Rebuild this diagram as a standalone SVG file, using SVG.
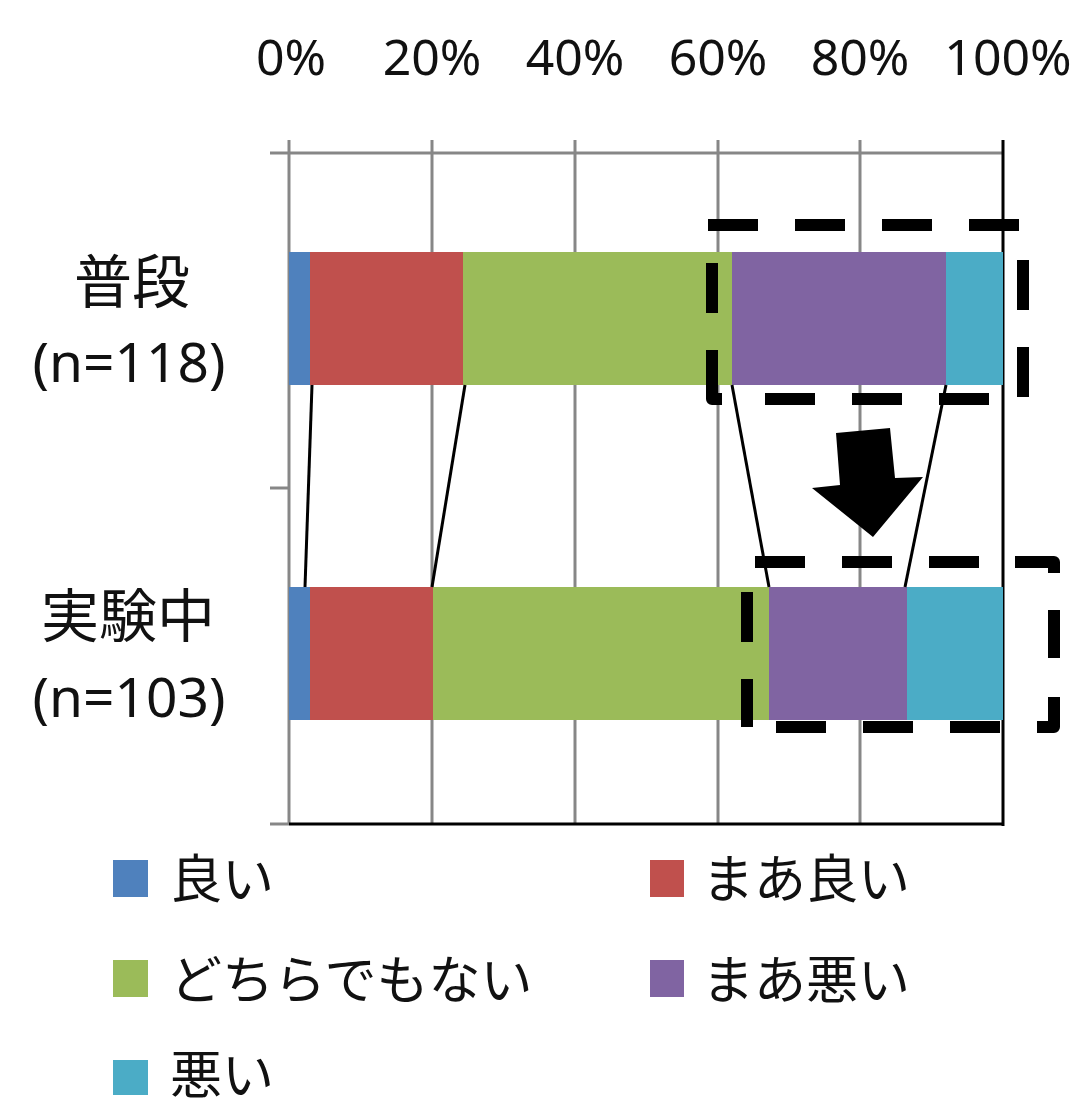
<svg xmlns="http://www.w3.org/2000/svg" width="1080" height="1110" viewBox="0 0 1080 1110">
<style>
.grid{stroke:#878787;stroke-width:3;fill:none}
.blk{stroke:#000;stroke-width:3;fill:none}
.dash{stroke:#000;stroke-width:12;fill:none;stroke-dasharray:50 37;stroke-linejoin:round}
.ax{font-family:"Noto Sans","Noto Sans CJK JP",sans-serif;font-size:50px;fill:#111;text-anchor:middle}
.lbl{font-family:"Noto Sans","Noto Sans CJK JP",sans-serif;font-size:55px;fill:#111;text-anchor:middle}
.jp{font-family:"Noto Sans CJK JP",sans-serif;font-size:58px;fill:#111;text-anchor:middle}
.leg{font-family:"Noto Sans CJK JP",sans-serif;font-size:52px;fill:#111}
.c1{fill:#4F81BD}.c2{fill:#C0504D}.c3{fill:#9BBB59}.c4{fill:#8064A2}.c5{fill:#4BACC6}
</style>
<rect width="1080" height="1110" fill="#fff"/>
<g id="axis-labels">
<text class="ax" x="291" y="75">0%</text>
<text class="ax" x="432" y="75">20%</text>
<text class="ax" x="575" y="75">40%</text>
<text class="ax" x="718" y="75">60%</text>
<text class="ax" x="860" y="75">80%</text>
<text class="ax" x="1008" y="75">100%</text>
</g>
<g id="gridlines">
<line class="grid" x1="270" y1="153" x2="1003" y2="153"/>
<line class="grid" x1="289" y1="140" x2="289" y2="824"/>
<line class="grid" x1="432" y1="140" x2="432" y2="824"/>
<line class="grid" x1="575" y1="140" x2="575" y2="824"/>
<line class="grid" x1="718" y1="140" x2="718" y2="824"/>
<line class="grid" x1="860" y1="140" x2="860" y2="824"/>
<line class="grid" x1="270" y1="488" x2="289" y2="488"/>
<line class="grid" x1="270" y1="824" x2="289" y2="824"/>
<line class="blk" x1="1003" y1="140" x2="1003" y2="826"/>
<line class="blk" x1="289" y1="824" x2="1003" y2="824"/>
</g>
<g id="row-labels">
<text class="jp" x="132" y="303">普段</text>
<text class="lbl" x="129" y="382">(n=118)</text>
<text class="jp" x="128" y="637">実験中</text>
<text class="lbl" x="129" y="717">(n=103)</text>
</g>
<g id="bar-usual">
<rect class="c1" x="289" y="252" width="21" height="133"/>
<rect class="c2" x="310" y="252" width="153" height="133"/>
<rect class="c3" x="463" y="252" width="269" height="133"/>
<rect class="c4" x="732" y="252" width="214" height="133"/>
<rect class="c5" x="946" y="252" width="57" height="133"/>
</g>
<g id="bar-experiment">
<rect class="c1" x="289" y="587" width="21" height="133"/>
<rect class="c2" x="310" y="587" width="123" height="133"/>
<rect class="c3" x="433" y="587" width="336" height="133"/>
<rect class="c4" x="769" y="587" width="138" height="133"/>
<rect class="c5" x="907" y="587" width="96" height="133"/>
</g>
<g id="connectors">
<line class="blk" x1="312" y1="385" x2="305" y2="587"/>
<line class="blk" x1="465" y1="385" x2="432" y2="587"/>
<line class="blk" x1="732" y1="385" x2="769" y2="587"/>
<line class="blk" x1="946" y1="385" x2="905" y2="587"/>
</g>
<g id="highlight-usual">
<path class="dash" d="M708,225 H1022"/>
<path class="dash" d="M712,263 V399"/>
<path class="dash" d="M765,399 H990"/>
<path class="dash" style="stroke-dasharray:none" d="M712,386 V399 H722"/>
<path class="dash" d="M1023,260 V399" style="stroke-dasharray:50 37"/>
</g>
<g id="highlight-experiment">
<path class="dash" d="M755,562 H1000"/>
<path class="dash" style="stroke-dasharray:none" d="M1015,562 H1054 V573"/>
<path class="dash" d="M747,592 V727"/>
<path class="dash" d="M776,727 H1000"/>
<path class="dash" style="stroke-dasharray:none" d="M1037,727 H1054 V697"/>
<path class="dash" style="stroke-dasharray:none" d="M1054,610 V658"/>
</g>
<g id="arrow">
<polygon points="836,433 890,428 895,478 923,477 873,537 812,488 840,485" fill="#000"/>
</g>
<g id="legend">
<rect class="c1" x="113" y="860" width="35" height="37"/>
<text class="leg" x="170" y="898">良い</text>
<rect class="c2" x="650" y="860" width="34" height="37"/>
<text class="leg" x="702" y="898">まあ良い</text>
<rect class="c3" x="113" y="960" width="35" height="37"/>
<text class="leg" x="170" y="999">どちらでもない</text>
<rect class="c4" x="650" y="960" width="34" height="37"/>
<text class="leg" x="702" y="999">まあ悪い</text>
<rect class="c5" x="113" y="1060" width="35" height="35"/>
<text class="leg" x="170" y="1094">悪い</text>
</g>
</svg>
